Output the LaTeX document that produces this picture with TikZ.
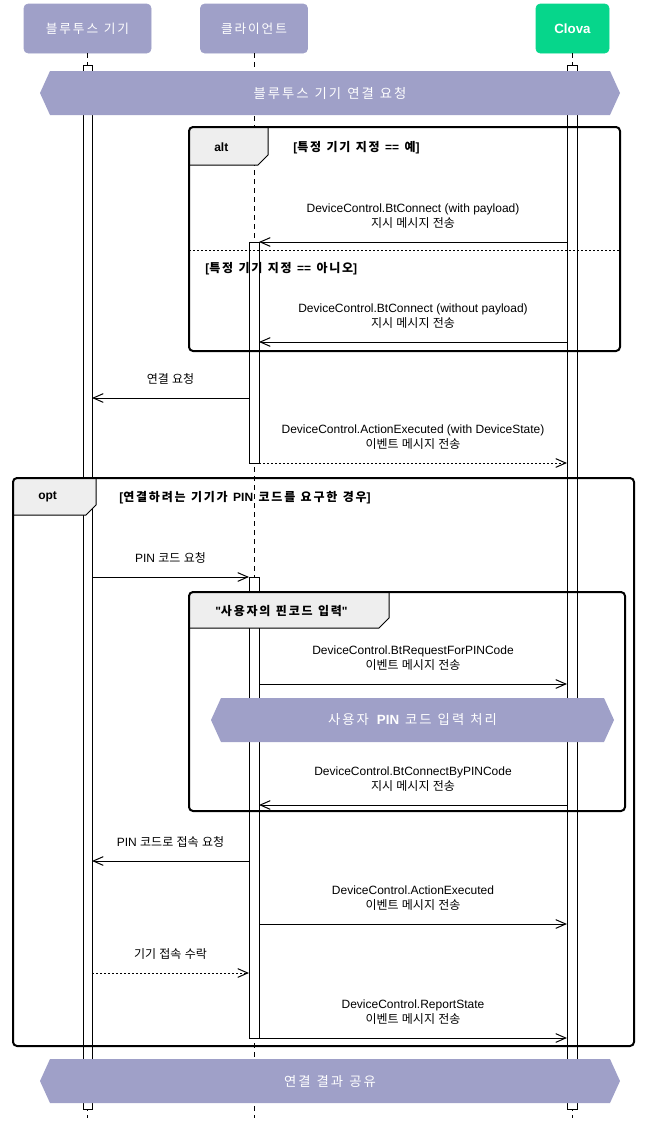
\documentclass[tikz,border=0pt]{standalone}
\usepackage{fontspec}
\setmainfont{Liberation Sans}
\newfontfamily\latinfont{Liberation Sans}
\newfontfamily\kofont{Noto Sans CJK KR}
\newfontfamily\kofontwide[LetterSpace=15]{Noto Sans CJK KR}
\let\kosel\kofont
% hangul syllables are set in the korean family
\XeTeXinterchartokenstate=1
\chardef\KoClass=9
\newcount\kocnt
\kocnt="AC00
\loop
  \XeTeXcharclass\kocnt=\KoClass
  \advance\kocnt by 1
\ifnum\kocnt<"D7A4 \repeat
\XeTeXinterchartoks 0 \KoClass={\bgroup\kosel}
\XeTeXinterchartoks 4095 \KoClass={\bgroup\kosel}
\XeTeXinterchartoks \KoClass 0={\egroup}
\XeTeXinterchartoks \KoClass 4095={\egroup}
\usepackage{tikz}
\usetikzlibrary{arrows.meta}
\definecolor{partfill}{HTML}{9FA0C8}
\definecolor{clovafill}{HTML}{06D68B}
\definecolor{labgray}{HTML}{EEEEEE}
\def\qt{{\latinfont"}}
\def\widekr{\let\kosel\kofontwide\spaceskip=0.45em\relax}
\def\seqmsg#1#2#3#4#5#6{%
  \coordinate (#1s) at (#2,#4);
  \coordinate (#1e) at (#3,#4);
  \draw[#5] (#1s) -- (#1e) node[msglab] (#1) {#6};
}
\def\seqdiv#1#2#3#4#5{%
  \fill[divider] (#2,#4) -- (#2+10,#4-22) -- (#3-10,#4-22) -- (#3,#4) -- (#3-10,#4+22) -- (#2+10,#4+22) -- cycle;
  \node[divtext] (#1) at ({(#2+#3)/2},#4) {#5};
}
\tikzstyle{part}=[draw=partfill,fill=partfill,rounded corners=3pt,text=white,minimum height=36.75pt,font=\fontsize{9.5}{12}\selectfont\widekr]
\tikzstyle{lifeline}=[line width=0.75pt,dash pattern=on 3.75pt off 3pt]
\tikzstyle{actbar}=[draw,fill=white,line width=0.75pt]
\tikzstyle{msg}=[line width=0.75pt,-{Straight Barb[length=7.5pt,width=6.5pt]}]
\tikzstyle{reply}=[msg,dash pattern=on 1.5pt off 1.5pt]
\tikzstyle{msglab}=[midway,above=9.5pt,inner sep=0pt,align=center,font=\fontsize{9}{11.2}\selectfont]
\tikzstyle{fragment}=[line width=1.5pt,rounded corners=3pt]
\tikzstyle{fraglab}=[draw,fill=labgray,line width=0.75pt]
\tikzstyle{fragtext}=[anchor=west,inner sep=0pt,font=\fontsize{9}{11}\selectfont\bfseries\widekr]
\tikzstyle{guardline}=[line width=0.75pt,dash pattern=on 1.5pt off 1.5pt]
\tikzstyle{divider}=[fill=partfill]
\tikzstyle{divtext}=[text=white,font=\fontsize{10}{12}\selectfont\widekr]

\begin{document}
\begin{tikzpicture}[x=0.75pt,y=-0.75pt]
    \useasboundingbox (0,0) rectangle (644,1129);
    \node[part,minimum width=95.25pt] (bt) at (87.5,28.5) {블루투스 기기};
    \node[part,minimum width=80.25pt] (cl) at (254,28.5) {클라이언트};
    \node[part,draw=clovafill,fill=clovafill,minimum width=54.75pt,font=\fontsize{10}{12}\selectfont\bfseries] (clova) at (572.5,28.5) {Clova};
    \coordinate (lifeend) at (0,1118);
    \foreach \p in {bt,cl,clova}
      \draw[lifeline] (\p.south) -- (\p.south |- lifeend);
    % activations
    \draw[actbar] (83,65) rectangle (92,1109);
    \draw[actbar] (567,65) rectangle (577,1109);
    \draw[actbar] (249,242) rectangle (259,463);
    \draw[actbar] (249,577) rectangle (259,1038);
    % messages
    \seqmsg{m1}{567}{259}{242}{msg}{DeviceControl.BtConnect (with payload)\\지시 메시지 전송}
    \seqmsg{m2}{567}{259}{342}{msg}{DeviceControl.BtConnect (without payload)\\지시 메시지 전송}
    \seqmsg{m3}{249}{92}{398}{msg}{연결 요청}
    \seqmsg{m4}{259}{567}{463}{reply}{DeviceControl.ActionExecuted (with DeviceState)\\이벤트 메시지 전송}
    \seqmsg{m5}{92}{249}{577}{msg}{PIN 코드 요청}
    \seqmsg{m6}{259}{567}{684}{msg}{DeviceControl.BtRequestForPINCode\\이벤트 메시지 전송}
    \seqmsg{m7}{567}{259}{805}{msg}{DeviceControl.BtConnectByPINCode\\지시 메시지 전송}
    \seqmsg{m8}{249}{92}{861}{msg}{PIN 코드로 접속 요청}
    \seqmsg{m9}{259}{567}{924}{msg}{DeviceControl.ActionExecuted\\이벤트 메시지 전송}
    \seqmsg{m10}{92}{249}{973}{reply}{기기 접속 수락}
    \seqmsg{m11}{259}{567}{1038}{msg}{DeviceControl.ReportState\\이벤트 메시지 전송}
    % alt
    \begin{scope}
      \clip[rounded corners=3pt] (189,127) rectangle (620,351);
      \draw[fraglab] (189,127) -- (268,127) -- (268,155) -- (258,165) -- (189,165) -- cycle;
    \end{scope}
    \draw[fragment] (189,127) rectangle (620,351);
    \node[fragtext] (alt) at (214,147) {alt};
    \node[fragtext] (yes) at (293,148) {[특정 기기 지정 == 예]};
    \draw[guardline] (189,250) -- (620,250);
    \node[fragtext] (no) at (205,269) {[특정 기기 지정 == 아니오]};
    % opt
    \begin{scope}
      \clip[rounded corners=3pt] (13,478) rectangle (634,1046);
      \draw[fraglab] (13,478) -- (96,478) -- (96,505) -- (86,515) -- (13,515) -- cycle;
    \end{scope}
    \draw[fragment] (13,478) rectangle (634,1046);
    \node[fragtext] (opt) at (38,497) {opt};
    \node[fragtext] (pinreq) at (119,498) {[연결하려는 기기가 PIN 코드를 요구한 경우]};
    % user input
    \begin{scope}
      \clip[rounded corners=3pt] (189,592) rectangle (625,811);
      \draw[fraglab] (189,592) -- (389,592) -- (389,618) -- (379,628) -- (189,628) -- cycle;
    \end{scope}
    \draw[fragment] (189,592) rectangle (625,811);
    \node[fragtext] (input) at (215,611) {\qt 사용자의 핀코드 입력\qt};
    % dividers
    \seqdiv{d1}{40}{620}{93}{블루투스 기기 연결 요청}
    \seqdiv{d2}{211}{614}{720}{사용자 \textbf{PIN} 코드 입력 처리}
    \seqdiv{d3}{40}{620}{1081}{연결 결과 공유}
\end{tikzpicture}
\end{document}
